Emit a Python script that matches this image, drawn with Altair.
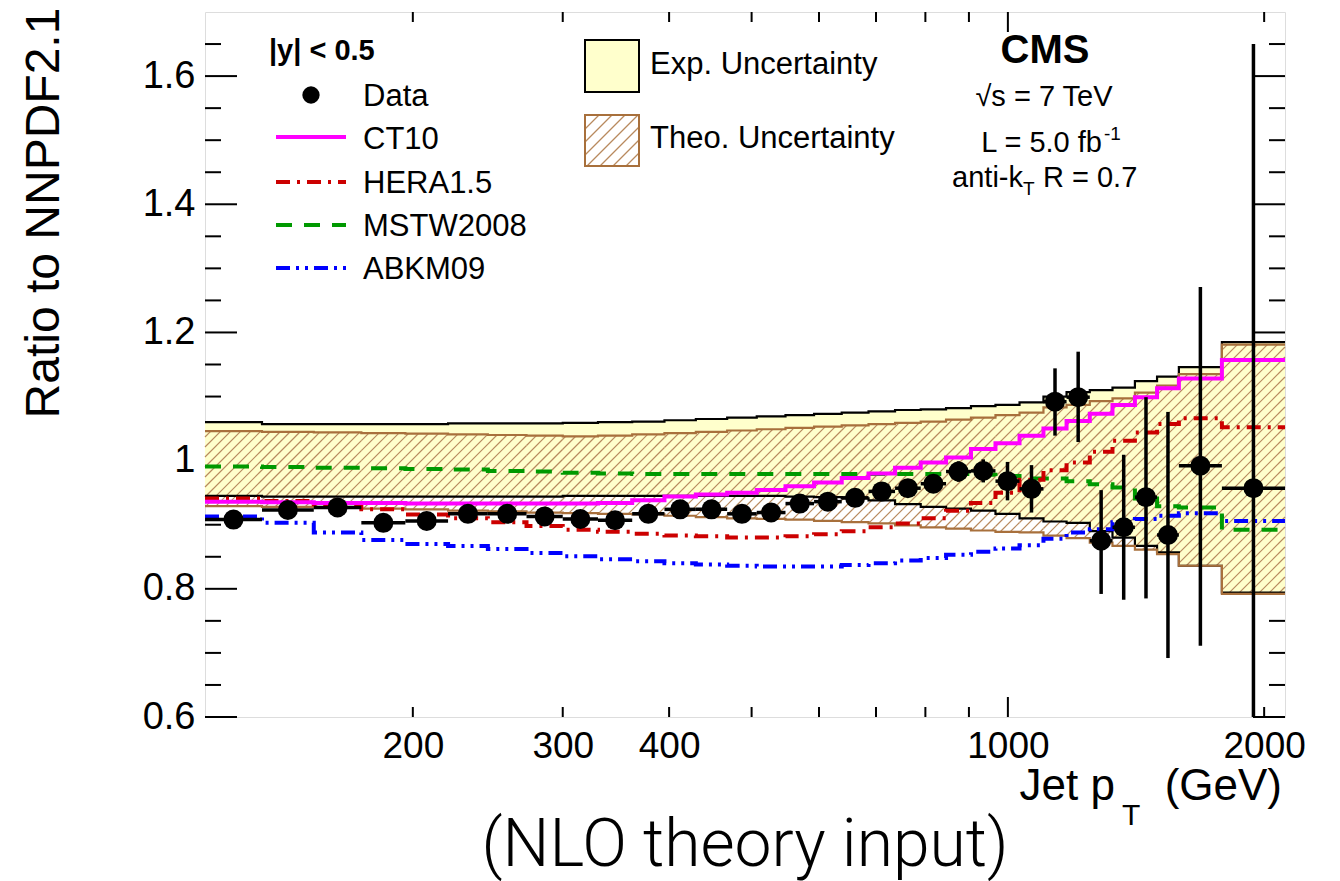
import math
import altair as alt
import pandas as pd

# ---------------- data ----------------
edges = [114, 133, 153, 174, 196, 220, 245, 272, 300, 330, 362, 395, 430, 468, 507,
         548, 592, 638, 686, 737, 790, 846, 905, 967, 1032, 1101, 1172, 1248, 1327,
         1410, 1497, 1588, 1784, 2116]

data_ratio = [0.908, 0.923, 0.927, 0.903, 0.906, 0.917, 0.917, 0.913, 0.909, 0.907,
              0.917, 0.924, 0.924, 0.917, 0.919, 0.933, 0.936, 0.942, 0.952, 0.957,
              0.964, 0.983, 0.984, 0.968, 0.956, 1.092, 1.099, 0.875, 0.896, 0.943,
              0.884, 0.992, 0.957]
data_err_up = [0.005] * 17 + [0.008] * 4 + [0.016, 0.018, 0.030, 0.037, 0.052, 0.071,
                                            0.079, 0.113, 0.156, 0.192, 0.279, 0.693]
data_err_dn = [0.005] * 17 + [0.008] * 4 + [0.016, 0.018, 0.030, 0.037, 0.053, 0.070,
                                            0.083, 0.113, 0.158, 0.192, 0.281, 0.693]

exp_up = [1.060, 1.057, 1.057, 1.057, 1.057, 1.058, 1.058, 1.058, 1.059, 1.060, 1.061,
          1.063, 1.065, 1.067, 1.069, 1.071, 1.073, 1.075, 1.077, 1.079, 1.080, 1.082,
          1.085, 1.087, 1.091, 1.100, 1.107, 1.110, 1.114, 1.124, 1.131, 1.146, 1.185]
exp_dn = [0.945, 0.944, 0.944, 0.944, 0.944, 0.944, 0.944, 0.944, 0.945, 0.945, 0.945,
          0.945, 0.945, 0.945, 0.945, 0.944, 0.943, 0.941, 0.938, 0.932, 0.928, 0.925,
          0.922, 0.917, 0.910, 0.905, 0.903, 0.890, 0.880, 0.867, 0.857, 0.836, 0.794]
theo_up = [1.046, 1.045, 1.044, 1.043, 1.042, 1.041, 1.040, 1.039, 1.038, 1.039, 1.041,
           1.043, 1.045, 1.047, 1.049, 1.051, 1.053, 1.055, 1.057, 1.059, 1.061, 1.064,
           1.067, 1.071, 1.075, 1.083, 1.087, 1.093, 1.097, 1.106, 1.117, 1.135, 1.181]
theo_dn = [0.929, 0.928, 0.927, 0.925, 0.924, 0.922, 0.921, 0.919, 0.918, 0.917, 0.916,
           0.914, 0.912, 0.910, 0.909, 0.908, 0.906, 0.904, 0.902, 0.899, 0.896, 0.894,
           0.891, 0.889, 0.888, 0.883, 0.879, 0.872, 0.867, 0.861, 0.854, 0.836, 0.792]

ct10 = [0.936, 0.935, 0.934, 0.934, 0.933, 0.933, 0.933, 0.933, 0.933, 0.934, 0.938,
        0.944, 0.947, 0.950, 0.954, 0.960, 0.966, 0.973, 0.980, 0.989, 0.997, 1.005,
        1.018, 1.027, 1.039, 1.050, 1.062, 1.073, 1.087, 1.099, 1.113, 1.128, 1.157]
hera = [0.941, 0.937, 0.932, 0.924, 0.916, 0.910, 0.904, 0.898, 0.892, 0.889, 0.886,
        0.883, 0.882, 0.880, 0.880, 0.882, 0.885, 0.890, 0.896, 0.902, 0.910, 0.922,
        0.934, 0.950, 0.970, 0.985, 0.997, 1.014, 1.031, 1.044, 1.057, 1.066, 1.052]
mstw = [0.991, 0.990, 0.989, 0.988, 0.987, 0.986, 0.984, 0.983, 0.981, 0.980, 0.979,
        0.979, 0.979, 0.979, 0.979, 0.979, 0.979, 0.979, 0.979, 0.979, 0.979, 0.979,
        0.978, 0.976, 0.972, 0.972, 0.968, 0.963, 0.958, 0.941, 0.929, 0.927, 0.892]
abkm = [0.913, 0.903, 0.888, 0.876, 0.870, 0.867, 0.862, 0.856, 0.851, 0.846, 0.843,
        0.840, 0.838, 0.836, 0.835, 0.835, 0.835, 0.837, 0.840, 0.844, 0.848, 0.853,
        0.858, 0.863, 0.868, 0.878, 0.888, 0.893, 0.904, 0.909, 0.914, 0.918, 0.906]

x_label_values = [200, 300, 400, 1000, 2000]
y_label_values = [0.6, 0.8, 1.0, 1.2, 1.4, 1.6]
x_ticks_short = [200, 300, 400, 500, 600, 700, 800, 900, 2000]
x_ticks_long = [1000]
y_ticks_long = [0.6, 0.8, 1.0, 1.2, 1.4, 1.6]
y_ticks_short = [0.65, 0.7, 0.75, 0.85, 0.9, 0.95, 1.05, 1.1, 1.15, 1.25, 1.3, 1.35,
                 1.45, 1.5, 1.55, 1.65]

# ---------------- layout / style ----------------
W, H = 1080, 705
XMIN, XMAX = 114, 2116
YMIN, YMAX = 0.6, 1.7
FONT = "Liberation Sans"
YELLOW = "#ffffcc"
BROWN = "#a8703c"
HATCH = "#b88a5e"

xs = alt.Scale(type="log", domain=[XMIN, XMAX], nice=False, zero=False)
ys = alt.Scale(domain=[YMIN, YMAX], nice=False, zero=False)
xax = alt.Axis(values=x_label_values, format="d", ticks=False, domain=False, grid=False,
               labelFontSize=37, labelFont=FONT, labelColor="black", labelPadding=11,
               labelFlush=False, labelOverlap=False, title=None)
yax = alt.Axis(values=y_label_values, format=".1~f", ticks=False, domain=False, grid=False,
               labelFontSize=38, labelFont=FONT, labelColor="black", labelPadding=10,
               labelOverlap=False, title=None)


def X(f):
    return alt.X(f"{f}:Q", scale=xs, axis=xax)


def Y(f):
    return alt.Y(f"{f}:Q", scale=ys, axis=yax)


# pixel <-> data helpers (for hatch decoration only)
LX0 = math.log10(XMIN)
PPD = W / (math.log10(XMAX) - LX0)
PPU = H / (YMAX - YMIN)


def px_of(x):
    return (math.log10(x) - LX0) * PPD


def py_of(v):
    return (v - YMIN) * PPU


def x_of(px):
    return 10 ** (LX0 + px / PPD)


def v_of(py):
    return YMIN + py / PPU


def hatch(boxes, spacing):
    rows = []
    for (px0, px1, py0, py1) in boxes:
        cmin = py0 - px1
        cmax = py1 - px0
        k = math.ceil(cmin / spacing)
        while k * spacing < cmax:
            c = k * spacing
            a = max(px0, py0 - c)
            b = min(px1, py1 - c)
            if b > a:
                rows.append({"x": x_of(a), "x2": x_of(b), "y": v_of(a + c), "y2": v_of(b + c)})
            k += 1
    return pd.DataFrame(rows)


def step_df(vals):
    return pd.DataFrame({"x": edges, "v": list(vals) + [vals[-1]]})


# ---------------- layers ----------------
layers = []


def tick_layer(vals, orient, length):
    df = pd.DataFrame({"t": vals})
    m = alt.Chart(df).mark_rule(color="black", strokeWidth=2)
    if orient == "left":
        return m.encode(y=Y("t"), x=alt.value(0), x2=alt.value(length))
    if orient == "right":
        return m.encode(y=Y("t"), x=alt.value(W), x2=alt.value(W - length))
    if orient == "bottom":
        return m.encode(x=X("t"), y=alt.value(H), y2=alt.value(H - length))
    return m.encode(x=X("t"), y=alt.value(0), y2=alt.value(length))


layers += [
    tick_layer(y_ticks_long, "left", 32), tick_layer(y_ticks_short, "left", 16),
    tick_layer(y_ticks_long, "right", 32), tick_layer(y_ticks_short, "right", 16),
    tick_layer(x_ticks_long, "bottom", 20), tick_layer(x_ticks_short, "bottom", 10),
    tick_layer(x_ticks_long, "top", 20), tick_layer(x_ticks_short, "top", 10),
]

# experimental uncertainty band (yellow)
band = pd.DataFrame({"x": edges, "lo": exp_dn + [exp_dn[-1]], "hi": exp_up + [exp_up[-1]]})
layers.append(alt.Chart(band).mark_area(interpolate="step-after", color=YELLOW, opacity=1)
              .encode(x=X("x"), y=Y("lo"), y2="hi"))

# theory uncertainty hatch
boxes = [(px_of(edges[i]), px_of(edges[i + 1]), py_of(theo_dn[i]), py_of(theo_up[i]))
         for i in range(len(theo_dn))]
hatch_df = hatch(boxes, 10.0)
layers.append(alt.Chart(hatch_df).mark_rule(color=HATCH, strokeWidth=1.2)
              .encode(x=X("x"), x2="x2", y=Y("y"), y2="y2"))

# band outlines
for vals, col in [(exp_up, "black"), (exp_dn, "black"), (theo_up, BROWN), (theo_dn, BROWN)]:
    layers.append(alt.Chart(step_df(vals)).mark_line(interpolate="step-after", color=col,
                                                      strokeWidth=2.2)
                  .encode(x=X("x"), y=Y("v")))

# model curves
models = [
    (abkm, "#0000ff", [14, 6, 3, 6, 3, 6]),
    (mstw, "#009900", [16, 12]),
    (hera, "#cc0000", [14, 7, 3, 7]),
    (ct10, "#ff00ff", None),
]
for vals, col, dash in models:
    kw = dict(interpolate="step-after", color=col, strokeWidth=4)
    if dash:
        kw["strokeDash"] = dash
    layers.append(alt.Chart(step_df(vals)).mark_line(**kw).encode(x=X("x"), y=Y("v")))

# data points
pts = pd.DataFrame({
    "lo": edges[:-1], "hi": edges[1:],
    "xc": [math.sqrt(a * b) for a, b in zip(edges[:-1], edges[1:])],
    "v": data_ratio,
    "vlo": [v - e for v, e in zip(data_ratio, data_err_dn)],
    "vhi": [v + e for v, e in zip(data_ratio, data_err_up)],
})
layers.append(alt.Chart(pts).mark_rule(color="black", strokeWidth=3.5, clip=True)
              .encode(x=X("xc"), y=Y("vlo"), y2="vhi"))
layers.append(alt.Chart(pts).mark_rule(color="black", strokeWidth=3.5, clip=True)
              .encode(x=X("lo"), x2="hi", y=Y("v")))
layers.append(alt.Chart(pts).mark_circle(color="black", opacity=1, size=400)
              .encode(x=X("xc"), y=Y("v")))


# ---------------- legend & texts ----------------
def one():
    return pd.DataFrame({"t": [""]})


def txt(s, x, y, size, align="left", weight="normal", font=FONT, angle=0,
        baseline="alphabetic"):
    return (alt.Chart(pd.DataFrame({"t": [s]}))
            .mark_text(align=align, baseline=baseline, fontSize=size, fontWeight=weight,
                       font=font, angle=angle, color="black")
            .encode(x=alt.value(x), y=alt.value(y), text="t:N"))


layers.append(alt.Chart(one()).mark_circle(color="black", opacity=1, size=300)
              .encode(x=alt.value(106), y=alt.value(83)))
leg_lines = [(125, "#ff00ff", None), (170, "#cc0000", [14, 7, 3, 7]),
             (213, "#009900", [16, 12]), (256, "#0000ff", [14, 6, 3, 6, 3, 6])]
for yy, col, dash in leg_lines:
    kw = dict(color=col, strokeWidth=4)
    if dash:
        kw["strokeDash"] = dash
    layers.append(alt.Chart(one()).mark_rule(**kw)
                  .encode(x=alt.value(71), x2=alt.value(141), y=alt.value(yy)))

layers.append(alt.Chart(one()).mark_rect(fill=YELLOW, stroke="black", strokeWidth=2)
              .encode(x=alt.value(380), x2=alt.value(434), y=alt.value(28), y2=alt.value(80)))
leg_hatch = hatch([(380, 434, H - 154, H - 103)], 13.0)
layers.append(alt.Chart(leg_hatch).mark_rule(color=HATCH, strokeWidth=1.2)
              .encode(x=X("x"), x2="x2", y=Y("y"), y2="y2"))
layers.append(alt.Chart(one()).mark_rect(fill=None, stroke=BROWN, strokeWidth=2)
              .encode(x=alt.value(380), x2=alt.value(434), y=alt.value(103), y2=alt.value(154)))

layers += [
    txt("|y| < 0.5", 64, 48, 29, weight="bold"),
    txt("Data", 158, 94, 31),
    txt("CT10", 158, 137, 31),
    txt("HERA1.5", 158, 181, 31),
    txt("MSTW2008", 158, 224, 31),
    txt("ABKM09", 158, 267, 31),
    txt("Exp. Uncertainty", 445, 62, 31),
    txt("Theo. Uncertainty", 445, 136, 31),
    txt("CMS", 840, 51, 40, align="center", weight="bold"),
    txt("\u221as = 7 TeV", 839, 94, 29, align="center"),
    txt("L = 5.0 fb", 897, 140, 29, align="right"),
    txt("-1", 899, 128, 19),
    txt("anti-k", 818, 175, 29, align="right"),
    txt("T", 818, 183, 19),
    txt("R = 0.7", 838, 175, 29),
    txt("Jet p", 910, 788, 44, align="right"),
    txt("T", 917, 813, 30),
    txt("(GeV)", 1077, 788, 44, align="right"),
    txt("Ratio to NNPDF2.1", -146, 201, 48, align="center", angle=270),
    txt("(NLO theory input)", 540, 854, 66, align="center", font="Roboto", weight=300),
]

chart = (alt.layer(*layers)
         .properties(width=W, height=H, autosize="none",
                     padding={"left": 197, "top": 4, "right": 47, "bottom": 164})
         .configure_view(stroke="black", strokeWidth=2.5)
         .configure(background="white"))

chart.save("out.html", embed_options={"renderer": "svg", "actions": False})
